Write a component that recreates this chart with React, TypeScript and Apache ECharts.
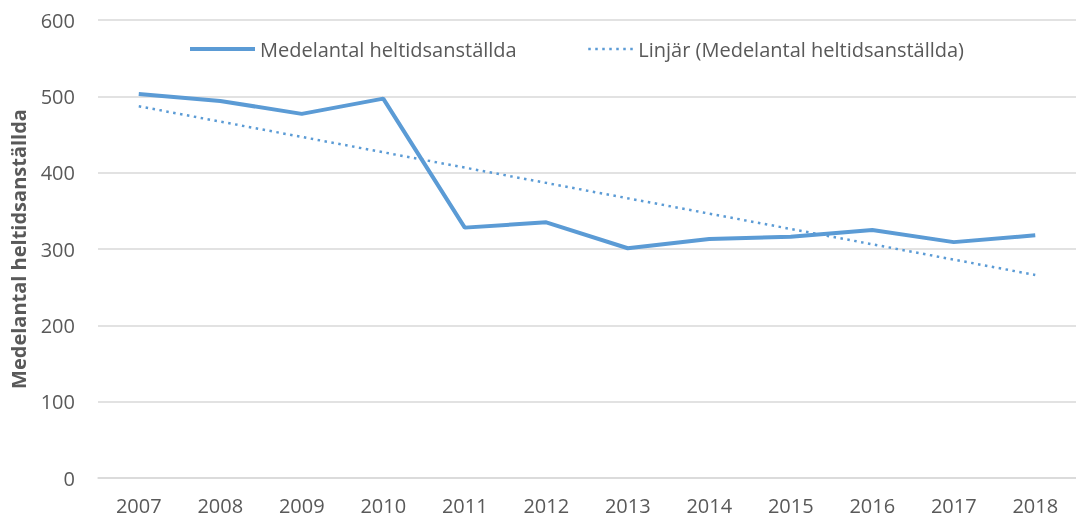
import React, { useEffect, useRef } from "react";
import * as echarts from "echarts";

const years = ["2007", "2008", "2009", "2010", "2011", "2012", "2013", "2014", "2015", "2016", "2017", "2018"];
const employees = [503, 494, 477, 497, 328, 335, 301, 313, 316, 325, 309, 318];
const trendStart = 487;
const trendEnd = 266;
const trendValues = years.map((_, i) => (i === 0 ? trendStart : i === years.length - 1 ? trendEnd : null));
const seriesName = "Medelantal heltidsanställda";
const trendName = "Linjär (Medelantal heltidsanställda)";

const FONT = "'Open Sans', sans-serif";
const TEXT = "#595959";
const BLUE = "#5B9BD5";

export default function App() {
  const ref = useRef<HTMLDivElement>(null);
  useEffect(() => {
    const chart = echarts.init(ref.current!, null, { renderer: "svg" });
    chart.setOption({
      animation: false,
      textStyle: { fontFamily: FONT },
      grid: { left: 97, top: 20, width: 984, bottom: 43, containLabel: false },
      legend: [
        {
          data: [seriesName],
          left: 183,
          top: 34,
          itemWidth: 65,
          itemHeight: 20,
          itemGap: 0,
          itemStyle: { opacity: 0 },
          lineStyle: { width: 4 },
          textStyle: { color: TEXT, fontSize: 20, fontFamily: FONT },
        },
        {
          data: [trendName],
          left: 582,
          top: 34,
          itemWidth: 45,
          itemHeight: 20,
          itemStyle: { opacity: 0 },
          lineStyle: { width: 2.5 },
          textStyle: { color: TEXT, fontSize: 20, fontFamily: FONT },
        },
      ],
      xAxis: {
        type: "category",
        data: years,
        boundaryGap: true,
        axisLine: { lineStyle: { color: "#D9D9D9", width: 1.5 } },
        axisTick: { show: false },
        axisLabel: { color: TEXT, fontSize: 20, margin: 17 },
      },
      yAxis: {
        type: "value",
        min: 0,
        max: 600,
        interval: 100,
        name: seriesName,
        nameLocation: "middle",
        nameGap: 70,
        nameTextStyle: { color: TEXT, fontSize: 20, fontWeight: "bold" },
        axisLine: { show: false },
        axisTick: { show: false },
        axisLabel: { color: TEXT, fontSize: 20, margin: 23 },
        splitLine: { lineStyle: { color: "#D9D9D9", width: 1.5 } },
      },
      series: [
        {
          name: seriesName,
          type: "line",
          data: employees,
          symbol: "none",
          lineStyle: { color: BLUE, width: 4 },
          itemStyle: { color: BLUE },
        },
        {
          name: trendName,
          type: "line",
          data: trendValues,
          connectNulls: true,
          symbol: "none",
          lineStyle: { color: BLUE, width: 2.5, type: [2.5, 4.5] },
          itemStyle: { color: BLUE },
        },
      ],
    });
    return () => chart.dispose();
  }, []);
  return <div ref={ref} style={{ position: "fixed", left: 0, top: 0, width: 1076, height: 521 }} />;
}
